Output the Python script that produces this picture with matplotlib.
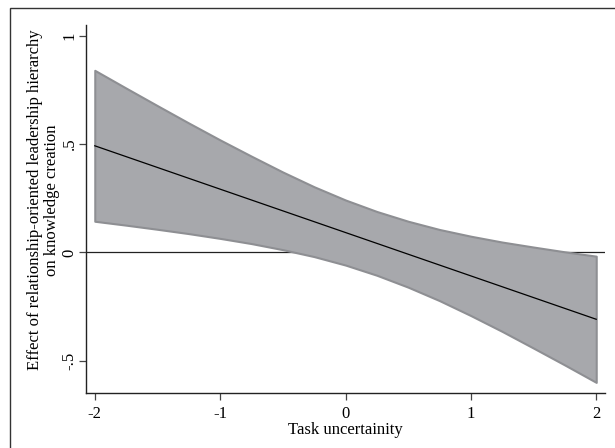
import numpy as np
import matplotlib
matplotlib.use('Agg')
import matplotlib.pyplot as plt
from matplotlib.patches import Rectangle

# values (marginal effect with 95% CI)
task_unc = [-2.0, -1.75, -1.5, -1.25, -1.0, -0.75, -0.5, -0.25, 0.0,
            0.25, 0.5, 0.75, 1.0, 1.25, 1.5, 1.75, 2.0]
effect = [0.492, 0.442, 0.392, 0.342, 0.292, 0.242, 0.192, 0.142, 0.092,
          0.042, -0.008, -0.058, -0.108, -0.158, -0.208, -0.258, -0.308]
ci_upper = [0.840, 0.758, 0.677, 0.597, 0.519, 0.444, 0.371, 0.303, 0.242,
            0.189, 0.144, 0.106, 0.075, 0.048, 0.025, 0.003, -0.017]
ci_lower = [0.144, 0.126, 0.107, 0.087, 0.065, 0.041, 0.013, -0.019, -0.058,
            -0.105, -0.160, -0.222, -0.291, -0.364, -0.441, -0.519, -0.599]

xticks = [-2, -1, 0, 1, 2]
yticks = [-0.5, 0, 0.5, 1]
ytick_labels = ['-.5', '0', '.5', '1']

size = 12
plt.rcParams['font.family'] = ['Liberation Serif', 'DejaVu Serif']

fig = plt.figure(figsize=(6.15, 4.48), dpi=100)
ax = fig.add_axes([86/615, 55/448, (605-86)/615, (393-25)/448])

ax.fill_between(task_unc, ci_lower, ci_upper, facecolor='#a7a8ac',
                edgecolor='#8e8f93', lw=1.5, zorder=2)
ax.plot(task_unc, effect, color='black', lw=0.9, zorder=3)
ax.axhline(0, color='#222222', lw=0.9, zorder=1)

ax.set_xlim(-2.07, 2.07)
ax.set_ylim(-0.648, 1.049)
ax.set_xticks(xticks)
ax.set_xticklabels([str(t) for t in xticks])
ax.set_yticks(yticks)
ax.set_yticklabels(ytick_labels, rotation=90, va='center')

for s in ['top', 'right']:
    ax.spines[s].set_visible(False)
for s in ['left', 'bottom']:
    ax.spines[s].set_color('#222222')
    ax.spines[s].set_linewidth(1.0)
ax.tick_params('both', labelsize=size, length=5, width=0.9, color='#444444', pad=4)
ax.tick_params('y', pad=1)

ax.set_xlabel('Task uncertainity', fontsize=size, labelpad=0)
ax.set_ylabel('Effect of relationship-oriented leadership hierarchy\non knowledge creation',
              fontsize=size, linespacing=1.05)
ax.yaxis.set_label_coords(-0.051, 0.525)

# outer frame of the figure (right and bottom edges fall outside the image)
fig.patches.append(Rectangle((9.5/615, -0.1), 1.2, (448-8.5)/448 + 0.1,
                             transform=fig.transFigure, fill=False,
                             edgecolor='#333333', lw=1.0))

plt.savefig('out.png', dpi=100)
